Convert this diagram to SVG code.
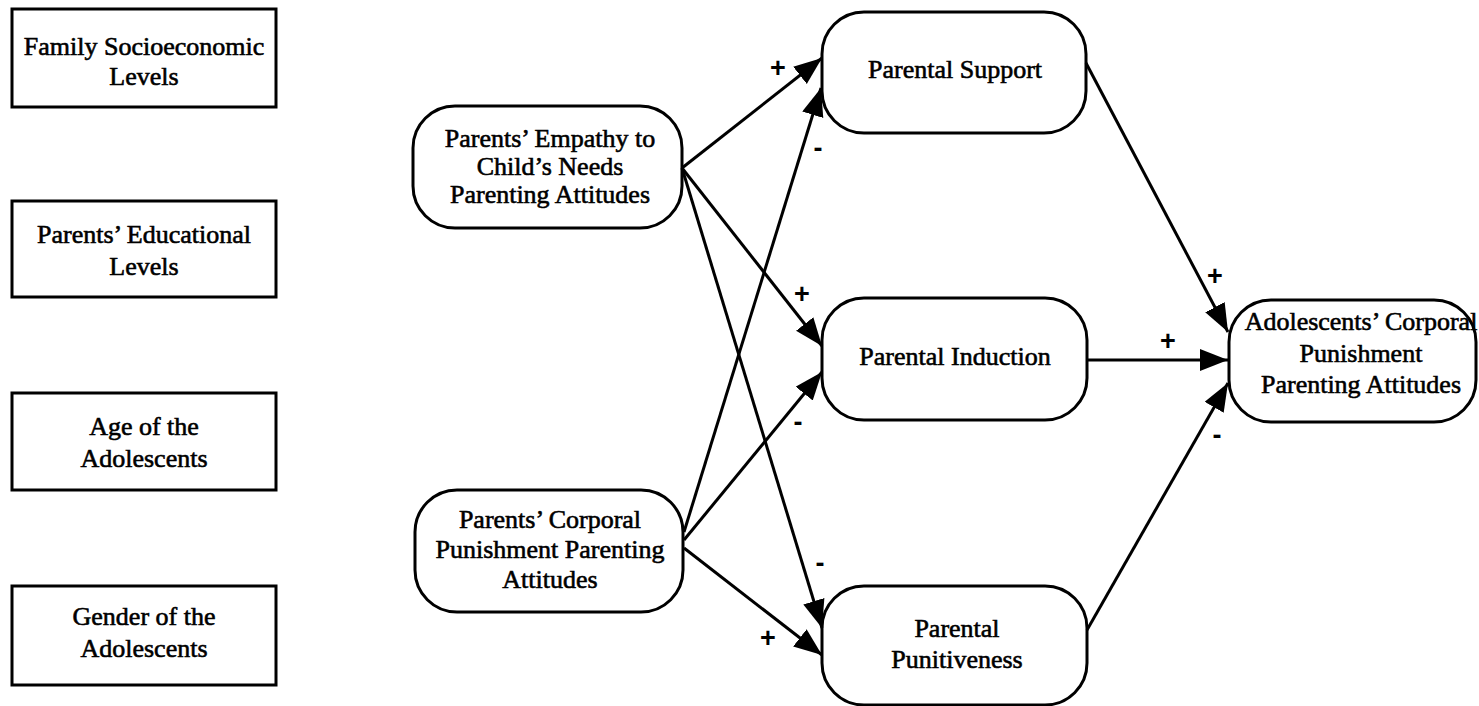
<svg xmlns="http://www.w3.org/2000/svg" width="1479" height="706" viewBox="0 0 1479 706">
  <style>
    .box { fill: #fff; stroke: #000; stroke-width: 3; }
    .node { fill: #fff; stroke: #000; stroke-width: 3; }
    .lbl { font-family: "Liberation Serif", "Times New Roman", serif; font-size: 26px; fill: #000; stroke: #000; stroke-width: 0.6; text-anchor: middle; }
    .sign { font-family: "Liberation Sans", Arial, sans-serif; font-size: 27px; font-weight: bold; fill: #000; text-anchor: middle; }
    .edge { stroke: #000; stroke-width: 3; fill: none; marker-end: url(#arrow); }
  </style>
  <defs>
    <marker id="arrow" markerUnits="userSpaceOnUse" markerWidth="30" markerHeight="24" refX="28" refY="11" orient="auto">
      <path d="M0,0 L28,11 L0,22 z" fill="#000"/>
    </marker>
  </defs>
  <rect width="1479" height="706" fill="#fff"/>

  <!-- control variables -->
  <g id="family-ses">
    <rect class="box" x="12" y="9" width="264" height="98"/>
    <text class="lbl" x="144" y="55">Family Socioeconomic</text>
    <text class="lbl" x="144" y="85">Levels</text>
  </g>
  <g id="parent-education">
    <rect class="box" x="12" y="201" width="264" height="96"/>
    <text class="lbl" x="144" y="243">Parents’ Educational</text>
    <text class="lbl" x="144" y="275">Levels</text>
  </g>
  <g id="adolescent-age">
    <rect class="box" x="12" y="393" width="264" height="97"/>
    <text class="lbl" x="144" y="435">Age of the</text>
    <text class="lbl" x="144" y="467">Adolescents</text>
  </g>
  <g id="adolescent-gender">
    <rect class="box" x="12" y="586" width="264" height="99"/>
    <text class="lbl" x="144" y="625">Gender of the</text>
    <text class="lbl" x="144" y="657">Adolescents</text>
  </g>

  <!-- predictors -->
  <g id="empathy">
    <rect class="node" x="413" y="106" width="269" height="122" rx="42" ry="42"/>
    <text class="lbl" x="550" y="147">Parents’ Empathy to</text>
    <text class="lbl" x="550" y="175">Child’s Needs</text>
    <text class="lbl" x="550" y="203">Parenting Attitudes</text>
  </g>
  <g id="corporal">
    <rect class="node" x="415" y="490" width="268" height="122" rx="42" ry="42"/>
    <text class="lbl" x="550" y="528">Parents’ Corporal</text>
    <text class="lbl" x="550" y="558">Punishment Parenting</text>
    <text class="lbl" x="550" y="588">Attitudes</text>
  </g>

  <!-- mediators -->
  <g id="support">
    <rect class="node" x="822" y="12" width="264" height="121" rx="42" ry="42"/>
    <text class="lbl" x="955" y="78">Parental Support</text>
  </g>
  <g id="induction">
    <rect class="node" x="822" y="298" width="265" height="122" rx="42" ry="42"/>
    <text class="lbl" x="955" y="365">Parental Induction</text>
  </g>
  <g id="punitiveness">
    <rect class="node" x="822" y="586" width="265" height="119" rx="42" ry="42"/>
    <text class="lbl" x="957" y="637">Parental</text>
    <text class="lbl" x="957" y="668">Punitiveness</text>
  </g>

  <!-- outcome -->
  <g id="outcome">
    <rect class="node" x="1229" y="300" width="247" height="122" rx="42" ry="42"/>
    <text class="lbl" x="1361" y="330">Adolescents’ Corporal</text>
    <text class="lbl" x="1361" y="362">Punishment</text>
    <text class="lbl" x="1361" y="393">Parenting Attitudes</text>
  </g>

  <!-- paths -->
  <g id="connectors">
    <line class="edge" x1="682" y1="168" x2="822" y2="58"/>
    <line class="edge" x1="682" y1="168" x2="822" y2="346"/>
    <line class="edge" x1="682" y1="168" x2="822" y2="628"/>
    <line class="edge" x1="684" y1="532" x2="821" y2="88"/>
    <line class="edge" x1="684" y1="540" x2="822" y2="372"/>
    <line class="edge" x1="684" y1="548" x2="822" y2="655"/>
    <line class="edge" x1="1086" y1="63" x2="1228" y2="332"/>
    <line class="edge" x1="1087" y1="360" x2="1228" y2="360"/>
    <line class="edge" x1="1087" y1="630" x2="1228" y2="383"/>
  </g>

  <!-- path signs -->
  <g id="signs">
    <text class="sign" x="778" y="77">+</text>
    <text class="sign" x="818" y="157">-</text>
    <text class="sign" x="802" y="303">+</text>
    <text class="sign" x="798" y="431">-</text>
    <text class="sign" x="820" y="572">-</text>
    <text class="sign" x="768" y="647">+</text>
    <text class="sign" x="1215" y="285">+</text>
    <text class="sign" x="1168" y="350">+</text>
    <text class="sign" x="1217" y="444">-</text>
  </g>
</svg>
